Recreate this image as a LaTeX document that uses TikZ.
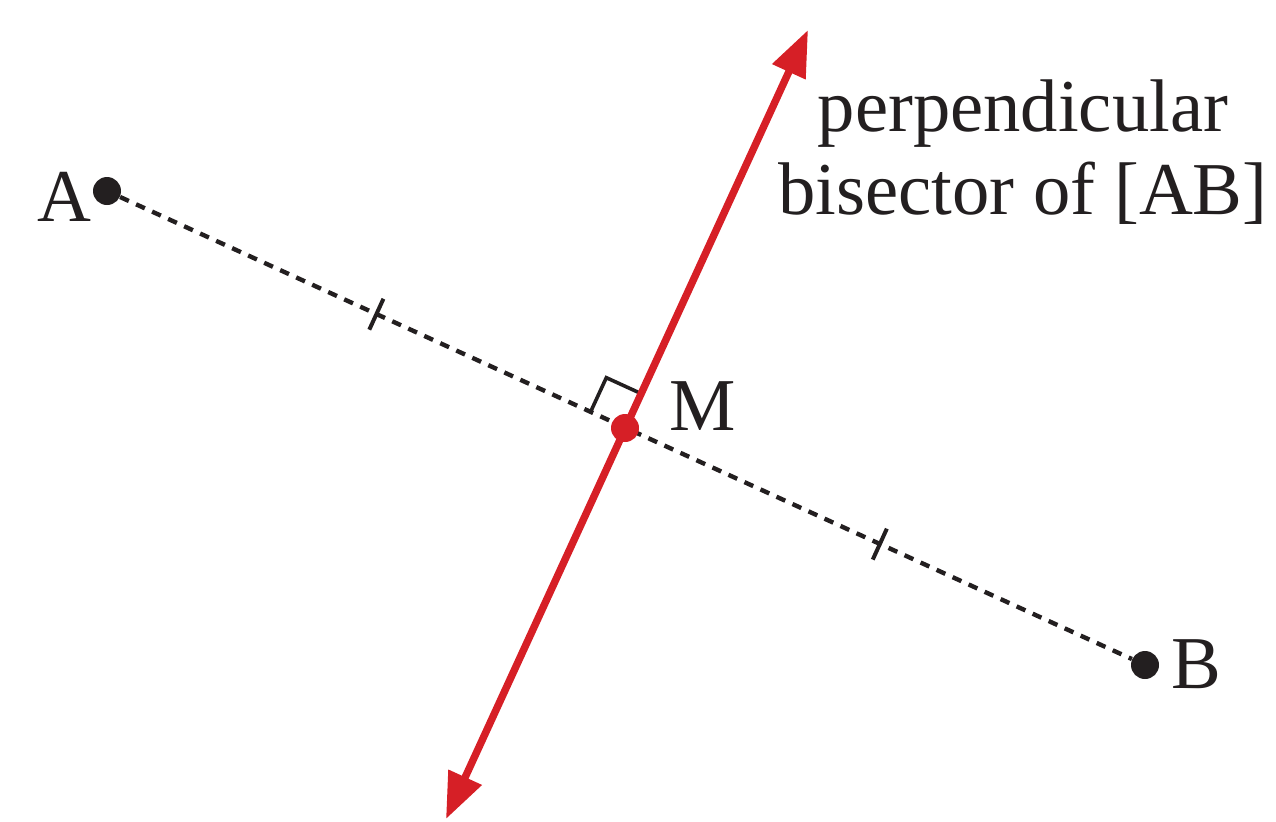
\documentclass[tikz,border=0pt]{standalone}
\usepackage{fontspec}
\setmainfont{Liberation Serif}
\usetikzlibrary{arrows.meta,calc}
\definecolor{bisred}{RGB}{214,31,38}
\definecolor{ink}{RGB}{35,31,32}
\begin{document}
\begin{tikzpicture}[x=0.5pt,y=-0.5pt,
  dotnode/.style={circle,fill=#1,inner sep=0pt,minimum size=14pt},
  lbl/.style={inner sep=0pt,anchor=base,text=ink,font=\fontsize{37.3}{41.5}\selectfont},
  seg/.style={draw=ink,line width=2.2pt,dash pattern=on 4.8pt off 4pt},
  tickmark/.style={draw=ink,line width=2pt},
  rightang/.style={draw=ink,line width=1.8pt},
  bisector/.style={draw=bisred,line width=3.7pt,{Triangle[length=23pt,width=17.5pt]}-{Triangle[length=23pt,width=17.5pt]}}]
\useasboundingbox (0,0) rectangle (1276,821);
\coordinate (Mc) at (625,428);
\coordinate (T) at (808,30);
\coordinate (D) at (446,819);
\node[dotnode=ink] (A) at (107,191) {};
\node[dotnode=ink] (B) at (1145,665) {};
% segment AB
\draw[seg] (A) -- (B);
% equal-length ticks
\coordinate (m1) at ($(A.center)!0.52!(Mc)$);
\coordinate (m2) at ($(Mc)!0.49!(B.center)$);
\draw[tickmark] ($(m1)!8.5pt!90:(Mc)$) -- ($(m1)!8.5pt!-90:(Mc)$);
\draw[tickmark] ($(m2)!8.5pt!90:(B.center)$) -- ($(m2)!8.5pt!-90:(B.center)$);
% right angle mark
\coordinate (ra1) at ($(Mc)!19pt!(A.center)$);
\coordinate (ra2) at ($(Mc)!19pt!(T)$);
\draw[rightang] (ra1) -- ($(ra1)+(ra2)-(Mc)$) -- (ra2);
% perpendicular bisector
\draw[bisector] (D) -- (T);
\node[dotnode=bisred] (M) at (Mc) {};
% labels
\node[lbl] (la) at (64,221) {A};
\node[lbl] (lm) at (703,430) {M};
\node[lbl] (lb) at (1196,688) {B};
\node[lbl] (l1) at (1023,131) {perpendicular};
\node[lbl] (l2) at (1023,214) {bisector of [AB]};
\end{tikzpicture}
\end{document}
